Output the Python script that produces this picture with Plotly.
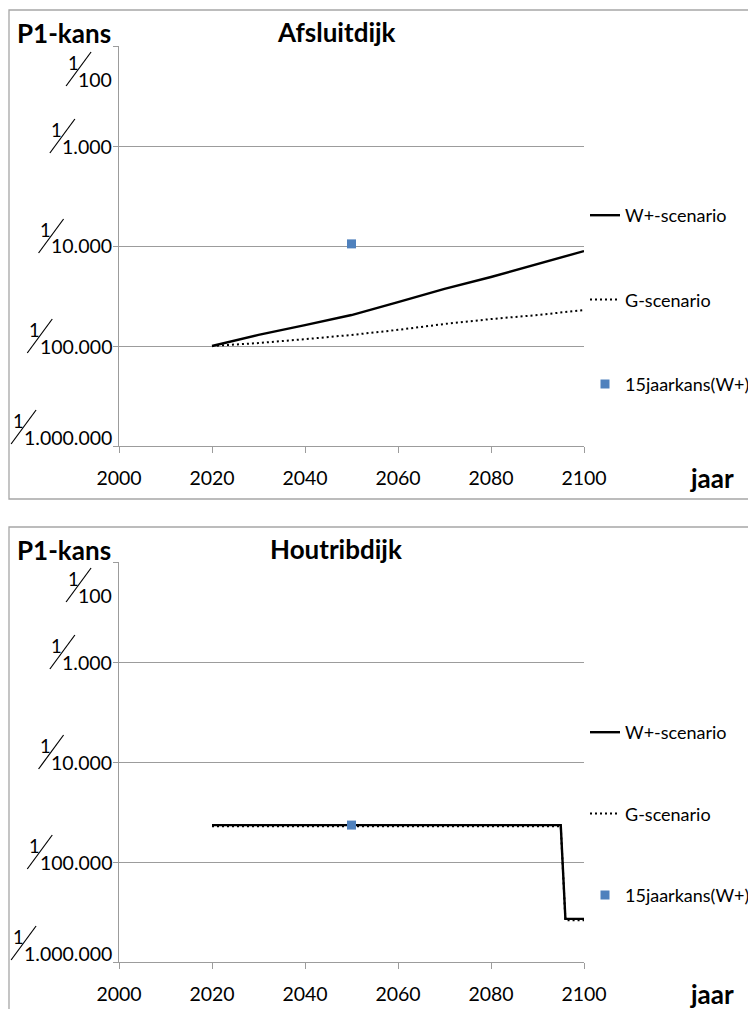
import plotly.graph_objects as go

# The page body has an 8px default margin; the figure is drawn so that it
# fills the window from that offset on.
WIN_W, WIN_H = 756, 1009
OFF = 8
W, H = WIN_W - OFF, WIN_H - OFF

# ---------------- data ----------------
years_afsluit = [2020, 2030, 2040, 2050, 2060, 2070, 2080, 2090, 2100]
afsluit_wplus = [1.0e-5, 1.29e-5, 1.62e-5, 2.04e-5, 2.75e-5, 3.72e-5, 4.9e-5, 6.6e-5, 8.9e-5]
afsluit_g = [1.0e-5, 1.07e-5, 1.17e-5, 1.29e-5, 1.45e-5, 1.66e-5, 1.86e-5, 2.04e-5, 2.29e-5]
afsluit_15j_year = [2050]
afsluit_15j = [1.05e-4]

years_houtrib = [2020, 2030, 2040, 2050, 2060, 2070, 2080, 2090, 2095, 2096, 2100]
houtrib_wplus = [2.34e-5, 2.34e-5, 2.34e-5, 2.34e-5, 2.34e-5, 2.34e-5, 2.34e-5, 2.34e-5, 2.34e-5, 2.7e-6, 2.7e-6]
houtrib_g = [2.28e-5, 2.28e-5, 2.28e-5, 2.28e-5, 2.28e-5, 2.28e-5, 2.28e-5, 2.28e-5, 2.28e-5, 2.62e-6, 2.62e-6]
houtrib_15j_year = [2050]
houtrib_15j = [2.34e-5]

titles = ["Afsluitdijk", "Houtribdijk"]
series_names = ["W+-scenario", "G-scenario", "15jaarkans(W+)"]
y_tickvals = [1e-2, 1e-3, 1e-4, 1e-5, 1e-6]
y_denominators = ["100", "1.000", "10.000", "100.000", "1.000.000"]
x_tickvals = [2000, 2020, 2040, 2060, 2080, 2100]
y_axis_title = "P1-kans"
x_axis_title = "jaar"

# ---------------- style / layout ----------------
FONT = "Lato"
GRID = "#9C9C9C"
BORDER = "#A6A6A6"
BLUE = "#4F81BD"
FS = 19.5


def px(x):
    return (x - OFF) / W


def py(y):
    return 1 - (y - OFF) / H


charts = [
    dict(years=years_afsluit, wp=afsluit_wplus, g=afsluit_g, my=afsluit_15j_year, m=afsluit_15j,
         box_top=10, box_bottom=499, plot_top=46, plot_bottom=446, legend_top=197, gap=58),
    dict(years=years_houtrib, wp=houtrib_wplus, g=houtrib_g, my=houtrib_15j_year, m=houtrib_15j,
         box_top=527, box_bottom=1030, plot_top=562, plot_bottom=962, legend_top=714, gap=55),
]

fig = go.Figure()
shapes = []
annotations = []
layout_axes = {}

PLOT_L, PLOT_R = 119, 584
label_offsets = [33, 0, 0, 0, -9]


def text_width(s, fs):
    w = 0
    for ch in s:
        w += 0.25 * fs if ch == "." else 0.58 * fs
    return w


for i, c in enumerate(charts):
    sfx = "" if i == 0 else str(i + 1)
    xa, ya = "x" + sfx, "y" + sfx
    leg = "legend" + sfx
    fig.add_trace(go.Scatter(x=c["years"], y=c["wp"], mode="lines", name=series_names[0],
                             line=dict(color="black", width=2.4), xaxis=xa, yaxis=ya,
                             legend=leg, legendgroup=f"a{i}"))
    fig.add_trace(go.Scatter(x=c["years"], y=c["g"], mode="lines", name=series_names[1],
                             line=dict(color="black", width=2, dash="2px,3px"), xaxis=xa, yaxis=ya,
                             legend=leg, legendgroup=f"b{i}"))
    fig.add_trace(go.Scatter(x=c["my"], y=c["m"], mode="markers", name=series_names[2],
                             marker=dict(color=BLUE, size=9, symbol="square", line=dict(width=0)),
                             xaxis=xa, yaxis=ya, legend=leg, legendgroup=f"c{i}"))

    layout_axes["xaxis" + sfx] = dict(
        domain=[px(PLOT_L), px(PLOT_R)], range=[2000, 2100], tickvals=x_tickvals,
        ticks="outside", ticklen=6, tickcolor=GRID, showline=True, linecolor=GRID, linewidth=1,
        showgrid=False, zeroline=False, tickfont=dict(family=FONT, size=FS, color="black"),
        ticklabelstandoff=9, anchor=ya, fixedrange=True, automargin=False)
    layout_axes["yaxis" + sfx] = dict(
        domain=[py(c["plot_bottom"]), py(c["plot_top"])], type="log", range=[-6, -2],
        tickvals=y_tickvals, showticklabels=False, ticks="outside", ticklen=5, tickcolor=GRID,
        showline=True, linecolor=GRID, linewidth=1, showgrid=True, gridcolor=GRID, gridwidth=1,
        zeroline=False, anchor=xa, fixedrange=True, automargin=False)
    layout_axes[leg] = dict(
        x=px(585), y=py(c["legend_top"]), xanchor="left", yanchor="top",
        traceorder="grouped", tracegroupgap=c["gap"], itemwidth=30,
        font=dict(family=FONT, size=18, color="black"), bgcolor="rgba(0,0,0,0)")

    # outer chart border
    shapes.append(dict(type="rect", xref="paper", yref="paper", x0=px(9), x1=px(WIN_W + 20),
                       y0=py(c["box_bottom"]), y1=py(c["box_top"]),
                       line=dict(color=BORDER, width=1.3), fillcolor="rgba(0,0,0,0)"))

    # fraction style y tick labels
    span = c["plot_bottom"] - c["plot_top"]
    for k, (tv, den) in enumerate(zip(y_tickvals, y_denominators)):
        grid_y = c["plot_top"] + span * k / (len(y_tickvals) - 1)
        Y = grid_y + label_offsets[k]
        R = 114
        L = R - text_width(den, FS)
        annotations.append(dict(xref="paper", yref="paper", x=px(R), y=py(Y), text=den,
                                showarrow=False, xanchor="right", yanchor="middle",
                                font=dict(family=FONT, size=FS, color="black")))
        annotations.append(dict(xref="paper", yref="paper", x=px(L - 7), y=py(Y - 16), text="1",
                                showarrow=False, xanchor="center", yanchor="middle",
                                font=dict(family=FONT, size=FS - 1, color="black")))
        shapes.append(dict(type="line", xref="paper", yref="paper",
                           x0=px(L - 14), y0=py(Y + 7), x1=px(L + 11), y1=py(Y - 27),
                           line=dict(color="black", width=1.2)))

    base = c["box_top"]
    annotations.append(dict(xref="paper", yref="paper", x=px(336), y=py(base + 22), text="<b>" + titles[i] + "</b>",
                            showarrow=False, xanchor="center", yanchor="middle",
                            font=dict(family=FONT, size=26, color="black")))
    annotations.append(dict(xref="paper", yref="paper", x=px(64), y=py(base + 23), text="<b>" + y_axis_title + "</b>",
                            showarrow=False, xanchor="center", yanchor="middle",
                            font=dict(family=FONT, size=26, color="black")))
    annotations.append(dict(xref="paper", yref="paper", x=px(712), y=py(c["plot_bottom"] + 32),
                            text="<b>" + x_axis_title + "</b>",
                            showarrow=False, xanchor="center", yanchor="middle",
                            font=dict(family=FONT, size=26, color="black")))

fig.update_layout(
    width=W, height=H, margin=dict(l=0, r=0, t=0, b=0, autoexpand=False),
    paper_bgcolor="white", plot_bgcolor="white",
    font=dict(family=FONT, size=FS, color="black"),
    shapes=shapes, annotations=annotations, showlegend=True,
    **layout_axes)

fig.write_html("out.html")
